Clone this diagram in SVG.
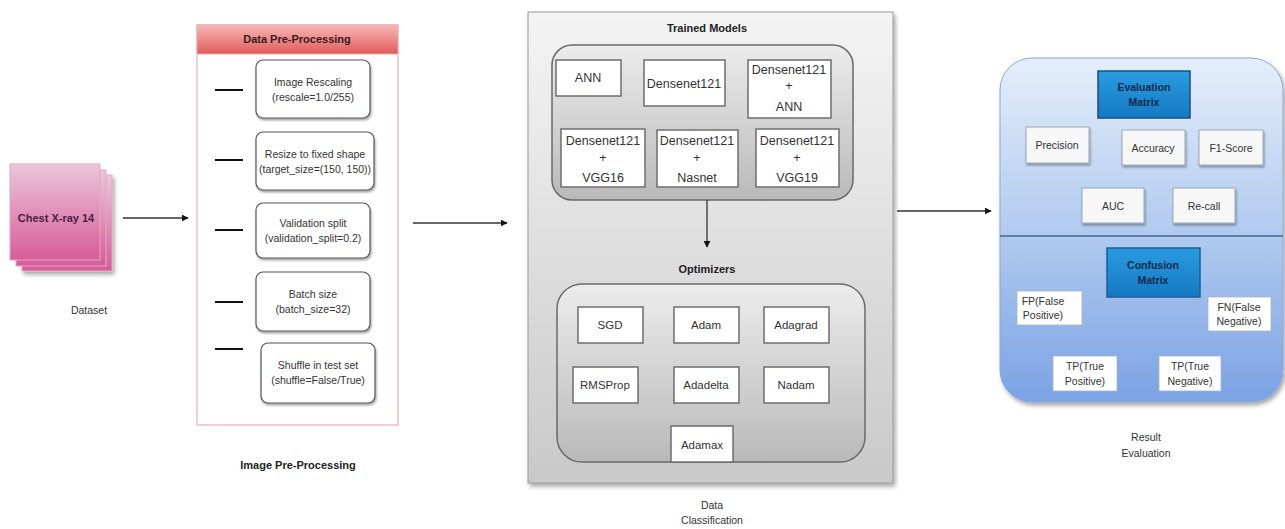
<svg xmlns="http://www.w3.org/2000/svg" width="1285" height="529" viewBox="0 0 1285 529">
  <defs>
    <linearGradient id="gPink" x1="0" y1="0" x2="0" y2="1">
      <stop offset="0" stop-color="#ecc6da"/>
      <stop offset="1" stop-color="#d65c98"/>
    </linearGradient>
    <linearGradient id="gRed" x1="0" y1="0" x2="0" y2="1">
      <stop offset="0" stop-color="#f8b8b8"/>
      <stop offset="1" stop-color="#e05a5a"/>
    </linearGradient>
    <linearGradient id="gGray" x1="0" y1="0" x2="0" y2="1">
      <stop offset="0" stop-color="#f4f4f4"/>
      <stop offset="1" stop-color="#c9c9c9"/>
    </linearGradient>
    <linearGradient id="gGrayIn" x1="0" y1="0" x2="0" y2="1">
      <stop offset="0" stop-color="#ececec"/>
      <stop offset="1" stop-color="#b9b9b9"/>
    </linearGradient>
    <linearGradient id="gBlue" x1="0" y1="0" x2="0" y2="1">
      <stop offset="0" stop-color="#e4eefa"/>
      <stop offset="0.5" stop-color="#b2cbef"/>
      <stop offset="1" stop-color="#7aa2e4"/>
    </linearGradient>
    <linearGradient id="gHead" x1="0" y1="0" x2="0" y2="1">
      <stop offset="0" stop-color="#2a9be0"/>
      <stop offset="1" stop-color="#1479c4"/>
    </linearGradient>
    <filter id="shadow" x="-10%" y="-10%" width="125%" height="125%">
      <feDropShadow dx="2" dy="3" stdDeviation="2" flood-color="#000" flood-opacity="0.35"/>
    </filter>
    <filter id="softShadow" x="-10%" y="-10%" width="125%" height="125%">
      <feDropShadow dx="1" dy="2" stdDeviation="1.2" flood-color="#000" flood-opacity="0.35"/>
    </filter>
    <marker id="arrow" viewBox="0 0 10 10" refX="9" refY="5" markerWidth="7" markerHeight="7" orient="auto" markerUnits="userSpaceOnUse">
      <path d="M0,0 L10,5 L0,10 z" fill="#111"/>
    </marker>
  </defs>
  <style>
    text { font-family: "Liberation Sans", Arial, sans-serif; fill: #333; text-anchor: middle; }
    .lbl { font-size: 10.5px; }
    .cap { font-size: 11px; font-weight: bold; fill: #222; }
    .model { font-size: 12.5px; fill: #333; }
    .opt { font-size: 11.5px; }
    .step { fill: #ffffff; stroke: #555; stroke-width: 1.2; filter: url(#softShadow); }
    .wbox { fill: #ffffff; stroke: #6e6e6e; stroke-width: 1.5; }
    .ebox { fill: #f7f7f7; stroke: #9aa7b8; stroke-width: 1; filter: url(#softShadow); }
    .cbox { fill: #ffffff; stroke: #aab4c2; stroke-width: 0.8; }
    .dash { stroke: #111; stroke-width: 2; }
    .conn { stroke: #333; stroke-width: 1.3; fill: none; marker-end: url(#arrow); }
  </style>

  <!-- Dataset: stacked pages -->
  <g id="dataset">
    <rect x="22" y="175" width="90" height="96" fill="url(#gPink)" stroke="#e0a8c4" stroke-width="1" filter="url(#shadow)"/>
    <rect x="16" y="170" width="90" height="96" fill="url(#gPink)" stroke="#e0a8c4" stroke-width="1"/>
    <rect x="10" y="164" width="90" height="96" fill="url(#gPink)" stroke="#e0a8c4" stroke-width="1"/>
    <text x="56" y="222" class="cap" style="fill:#4a2040">Chest X-ray 14</text>
    <text x="89" y="314" class="lbl">Dataset</text>
  </g>

  <!-- Data pre-processing panel -->
  <g id="preprocessing">
    <rect x="197" y="25" width="201" height="400" fill="#ffffff" stroke="#e6b0b4" stroke-width="1.2"/>
    <rect x="197" y="25" width="201" height="29" fill="url(#gRed)" stroke="#e6b0b4" stroke-width="1"/>
    <text x="297" y="43" class="cap" style="fill:#3a1a1a">Data Pre-Processing</text>

    <line x1="215" y1="90" x2="243" y2="90" class="dash"/>
    <rect x="256" y="60" width="114" height="58" rx="7" class="step"/>
    <text x="313" y="86" class="lbl">Image Rescaling</text>
    <text x="313" y="101" class="lbl">(rescale=1.0/255)</text>

    <line x1="215" y1="160" x2="243" y2="160" class="dash"/>
    <rect x="256" y="132" width="118" height="58" rx="7" class="step"/>
    <text x="315" y="158" class="lbl">Resize to fixed shape</text>
    <text x="315" y="173" class="lbl" textLength="112" lengthAdjust="spacingAndGlyphs">(target_size=(150, 150))</text>

    <line x1="215" y1="230" x2="243" y2="230" class="dash"/>
    <rect x="256" y="203" width="114" height="55" rx="7" class="step"/>
    <text x="313" y="227" class="lbl">Validation split</text>
    <text x="313" y="242" class="lbl">(validation_split=0.2)</text>

    <line x1="215" y1="302" x2="243" y2="302" class="dash"/>
    <rect x="256" y="272" width="114" height="59" rx="7" class="step"/>
    <text x="313" y="298" class="lbl">Batch size</text>
    <text x="313" y="313" class="lbl">(batch_size=32)</text>

    <line x1="215" y1="349" x2="243" y2="349" class="dash"/>
    <rect x="261" y="343" width="114" height="60" rx="7" class="step"/>
    <text x="318" y="369" class="lbl">Shuffle in test set</text>
    <text x="318" y="384" class="lbl">(shuffle=False/True)</text>

    <text x="298" y="469" class="cap">Image Pre-Processing</text>
  </g>

  <!-- Data classification panel -->
  <g id="classification">
    <rect x="528" y="12" width="365" height="471" fill="url(#gGray)" stroke="#9a9a9a" stroke-width="1" filter="url(#shadow)"/>
    <text x="707" y="32" class="cap">Trained Models</text>
    <rect x="552" y="45" width="301" height="155" rx="20" fill="url(#gGrayIn)" stroke="#6a6a6a" stroke-width="1.5"/>

    <g id="models">
      <rect x="556" y="60" width="65" height="36" class="wbox"/>
      <text x="588" y="82" class="model">ANN</text>
      <rect x="644" y="60" width="81" height="46" class="wbox"/>
      <text x="684" y="88" class="model">Densenet121</text>
      <rect x="748" y="60" width="83" height="58" class="wbox"/>
      <text x="789" y="74" class="model">Densenet121</text>
      <text x="789" y="90" class="model">+</text>
      <text x="789" y="111" class="model">ANN</text>
      <rect x="561" y="129" width="84" height="58" class="wbox"/>
      <text x="603" y="145" class="model">Densenet121</text>
      <text x="603" y="162" class="model">+</text>
      <text x="603" y="182" class="model">VGG16</text>
      <rect x="657" y="130" width="81" height="57" class="wbox"/>
      <text x="697" y="145" class="model">Densenet121</text>
      <text x="697" y="162" class="model">+</text>
      <text x="697" y="182" class="model">Nasnet</text>
      <rect x="756" y="129" width="83" height="58" class="wbox"/>
      <text x="797" y="145" class="model">Densenet121</text>
      <text x="797" y="162" class="model">+</text>
      <text x="797" y="182" class="model">VGG19</text>
    </g>

    <text x="707" y="273" class="cap">Optimizers</text>
    <rect x="557" y="284" width="308" height="178" rx="25" fill="url(#gGrayIn)" stroke="#6a6a6a" stroke-width="1.5"/>

    <g id="optimizers">
      <rect x="578" y="307" width="65" height="36" class="wbox"/>
      <text x="610" y="329" class="opt">SGD</text>
      <rect x="674" y="307" width="65" height="36" class="wbox"/>
      <text x="706" y="329" class="opt">Adam</text>
      <rect x="764" y="307" width="65" height="36" class="wbox"/>
      <text x="796" y="329" class="opt">Adagrad</text>
      <rect x="573" y="367" width="65" height="36" class="wbox"/>
      <text x="605" y="389" class="opt">RMSProp</text>
      <rect x="674" y="367" width="65" height="36" class="wbox"/>
      <text x="706" y="389" class="opt">Adadelta</text>
      <rect x="764" y="367" width="65" height="36" class="wbox"/>
      <text x="796" y="389" class="opt">Nadam</text>
      <rect x="671" y="426" width="62" height="36" fill="#ffffff" stroke="#6e6e6e" stroke-width="1.5"/>
      <text x="702" y="449" class="opt">Adamax</text>
    </g>

    <text x="712" y="509" class="lbl">Data</text>
    <text x="712" y="524" class="lbl">Classification</text>
  </g>

  <!-- Result evaluation panel -->
  <g id="evaluation">
    <rect x="1000" y="58" width="283" height="344" rx="32" fill="url(#gBlue)" stroke="#8aa8d8" stroke-width="1" filter="url(#shadow)"/>
    <line x1="1000" y1="236" x2="1283" y2="236" stroke="#4a6090" stroke-width="1.5"/>

    <rect x="1098" y="71" width="92" height="47" fill="url(#gHead)" stroke="#1a4f7a" stroke-width="1.5"/>
    <text x="1144" y="91" class="lbl" style="font-weight:bold;fill:#0d2a4a">Evaluation</text>
    <text x="1144" y="106" class="lbl" style="font-weight:bold;fill:#0d2a4a">Matrix</text>

    <rect x="1026" y="127" width="63" height="36" class="ebox"/>
    <text x="1057" y="149" class="lbl">Precision</text>
    <rect x="1122" y="130" width="63" height="35" class="ebox"/>
    <text x="1153" y="152" class="lbl">Accuracy</text>
    <rect x="1199" y="130" width="64" height="35" class="ebox"/>
    <text x="1231" y="152" class="lbl">F1-Score</text>
    <rect x="1082" y="188" width="62" height="35" class="ebox"/>
    <text x="1113" y="210" class="lbl">AUC</text>
    <rect x="1173" y="188" width="62" height="35" class="ebox"/>
    <text x="1204" y="210" class="lbl">Re-call</text>

    <rect x="1107" y="248" width="93" height="49" fill="url(#gHead)" stroke="#1a5f96" stroke-width="1.5"/>
    <text x="1153" y="269" class="lbl" style="font-weight:bold;fill:#0d2a4a">Confusion</text>
    <text x="1153" y="284" class="lbl" style="font-weight:bold;fill:#0d2a4a">Matrix</text>

    <rect x="1017" y="291" width="65" height="34" class="cbox"/>
    <text x="1043" y="305" class="lbl">FP(False</text>
    <text x="1043" y="319" class="lbl">Positive)</text>
    <rect x="1208" y="297" width="63" height="34" class="cbox"/>
    <text x="1239" y="311" class="lbl">FN(False</text>
    <text x="1239" y="325" class="lbl">Negative)</text>
    <rect x="1053" y="356" width="64" height="35" class="cbox"/>
    <text x="1085" y="370" class="lbl">TP(True</text>
    <text x="1085" y="385" class="lbl">Positive)</text>
    <rect x="1159" y="356" width="62" height="35" class="cbox"/>
    <text x="1190" y="370" class="lbl">TP(True</text>
    <text x="1190" y="385" class="lbl">Negative)</text>

    <text x="1146" y="441" class="lbl">Result</text>
    <text x="1146" y="457" class="lbl">Evaluation</text>
  </g>

  <!-- Connectors -->
  <g id="connectors">
    <line x1="123" y1="218" x2="188" y2="218" class="conn"/>
    <line x1="413" y1="223" x2="507" y2="223" class="conn"/>
    <line x1="707" y1="200" x2="707" y2="247" class="conn"/>
    <line x1="897" y1="211" x2="991" y2="211" class="conn"/>
  </g>
</svg>
